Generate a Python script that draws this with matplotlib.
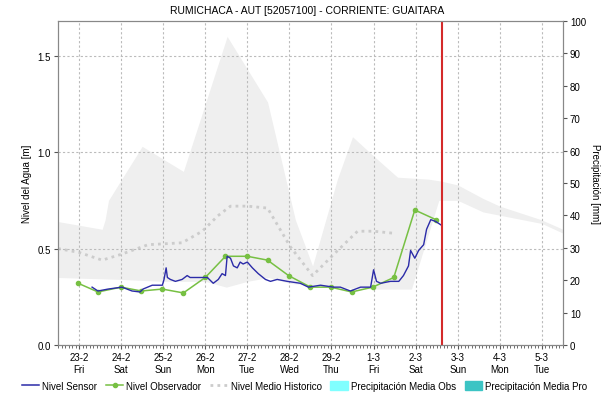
import matplotlib
matplotlib.use("Agg")
import matplotlib.pyplot as plt
import matplotlib.dates as mdates
from matplotlib.lines import Line2D
from matplotlib.patches import Patch
import pandas as pd

plt.rcParams['font.family'] = ['Liberation Sans', 'DejaVu Sans']

start = pd.Timestamp("2024-02-23")

# historical band (days from 23-2, level in m)
band_up_d = [-0.5, 0.55, 0.62, 0.7, 1.5, 2.48, 3.52, 4.0, 4.48, 5.14, 5.55, 6.14, 6.5, 7.0,
             7.57, 8.3, 8.6, 9.0, 9.6, 10.0, 10.98, 11.5]
band_up_v = [0.64, 0.60, 0.65, 0.75, 1.03, 0.90, 1.60, 1.43, 1.26, 0.65, 0.41, 0.86, 1.08, 0.98,
             0.87, 0.86, 0.85, 0.83, 0.76, 0.72, 0.65, 0.60]
band_lo_d = [-0.5, 1.0, 2.0, 3.0, 3.5, 4.0, 4.5, 5.0, 6.0, 7.0, 7.9, 8.55, 9.0, 9.6, 11.0, 11.5]
band_lo_v = [0.35, 0.34, 0.33, 0.33, 0.30, 0.33, 0.35, 0.32, 0.30, 0.29, 0.29, 0.75, 0.75, 0.69,
             0.63, 0.58]

# mean historical level
mean_d = [-0.5, 0.0, 0.55, 1.0, 1.64, 2.45, 2.93, 3.3, 3.6, 4.0, 4.48, 5.02, 5.55, 6.1, 6.62,
          7.0, 7.45]
mean_v = [0.50, 0.48, 0.44, 0.47, 0.52, 0.53, 0.59, 0.67, 0.72, 0.72, 0.71, 0.51, 0.36, 0.48,
          0.59, 0.59, 0.58]

# sensor level
sensor_d = [0.31, 0.45, 0.69, 1.02, 1.26, 1.45, 1.52, 1.74, 1.98, 2.02, 2.07, 2.1, 2.17, 2.29,
            2.45, 2.57, 2.64, 2.83, 3.05, 3.19, 3.31, 3.4, 3.48, 3.52, 3.6, 3.67, 3.76, 3.83,
            3.9, 4.0, 4.12, 4.26, 4.43, 4.55, 4.71, 4.95, 5.26, 5.45, 5.74, 6.05, 6.21, 6.45,
            6.69, 6.93, 7.0, 7.07, 7.17, 7.4, 7.6, 7.71, 7.83, 7.88, 7.98, 8.07, 8.19, 8.26,
            8.36, 8.48, 8.62]
sensor_v = [0.30, 0.28, 0.29, 0.30, 0.28, 0.275, 0.29, 0.31, 0.31, 0.34, 0.40, 0.35, 0.34, 0.33,
            0.34, 0.36, 0.35, 0.35, 0.35, 0.32, 0.34, 0.37, 0.36, 0.46, 0.45, 0.41, 0.40, 0.43,
            0.42, 0.43, 0.40, 0.37, 0.34, 0.33, 0.34, 0.33, 0.32, 0.30, 0.31, 0.30, 0.30, 0.28,
            0.30, 0.30, 0.39, 0.33, 0.32, 0.33, 0.33, 0.36, 0.41, 0.49, 0.45, 0.49, 0.52, 0.60,
            0.65, 0.64, 0.62]

# observer level
obs_d = [-0.02, 0.45, 1.0, 1.48, 1.98, 2.48, 3.0, 3.48, 4.0, 4.48, 4.98, 5.5, 5.98, 6.48, 6.98,
         7.48, 7.98, 8.48]
obs_v = [0.32, 0.275, 0.30, 0.28, 0.29, 0.27, 0.35, 0.46, 0.46, 0.44, 0.36, 0.30, 0.30, 0.275,
         0.30, 0.35, 0.70, 0.65]

now_d = 8.62


def t(days):
    return start + pd.to_timedelta(days, unit="D")


fig = plt.figure(figsize=(6.15, 4.02), dpi=100)
ax = fig.add_axes([0.0943, 0.1393, 0.821, 0.806])

ax.fill_between(t(band_up_d), band_up_v, color="#efefef", lw=0, zorder=1)
# lower edge: cover with white below the minimum
ax.fill_between(t(band_lo_d), band_lo_v, color="white", lw=0, zorder=1.1)

ax.grid(True, color="#bbbbbb", linestyle=(0, (2, 2)), linewidth=0.8, zorder=1.5)
ax.set_axisbelow(False)

ax.plot(t(mean_d), mean_v, color="#cccccc", linestyle=(0, (1, 1.5)), lw=2, zorder=2)
ax.plot(t(obs_d), obs_v, color="#77c043", lw=1.1, marker="o", ms=3, zorder=3)
ax.plot(t(sensor_d), sensor_v, color="#2b2ba8", lw=1.0, zorder=4)
ax.axvline(t(now_d), color="#d42a2a", lw=1.5, zorder=5)

ax.set_xlim(t(-0.5), t(11.5))
ax.set_ylim(0, 1.68)
ax.set_yticks([0.0, 0.5, 1.0, 1.5])
ax.yaxis.set_major_formatter(matplotlib.ticker.FormatStrFormatter("%.1f"))
ax.xaxis.set_major_locator(mdates.DayLocator())
ax.xaxis.set_major_formatter(mdates.DateFormatter("%-d-%-m\n%a"))
ax.xaxis.set_minor_locator(mdates.HourLocator(byhour=range(0, 24, 2)))
ax.tick_params(axis="x", which="minor", length=2, color="#555555", width=0.6)
ax.tick_params(axis="both", which="major", labelsize=7, length=3, color="#555555", pad=2)
ax.set_ylabel("Nivel del Agua [m]", fontsize=7)
for s in ax.spines.values():
    s.set_color("#888888")
    s.set_zorder(6)

ax2 = ax.twinx()
ax2.set_ylim(0, 100)
ax2.set_yticks(range(0, 101, 10))
ax2.tick_params(axis="y", labelsize=7, length=3, color="#555555", pad=2)
ax2.set_ylabel("Precipitación [mm]", fontsize=7, rotation=270, labelpad=10)
for s in ax2.spines.values():
    s.set_color("#888888")

fig.suptitle("RUMICHACA - AUT [52057100] - CORRIENTE: GUAITARA", fontsize=7.5, y=0.985)

handles = [
    Line2D([], [], color="#2b2ba8", lw=1.1),
    Line2D([], [], color="#77c043", lw=1.1, marker="o", ms=3),
    Line2D([], [], color="#cccccc", linestyle=(0, (1, 1.5)), lw=2),
    Patch(color="#80ffff"),
    Patch(color="#3cc4c4"),
]
labels = ["Nivel Sensor", "Nivel Observador", "Nivel Medio Historico",
          "Precipitación Media Obs", "Precipitación Media Pro"]
fig.legend(handles, labels, loc="lower center", ncol=5, frameon=False, fontsize=7,
           bbox_to_anchor=(0.495, 0.01), handlelength=1.8, handletextpad=0.3,
           columnspacing=0.9, handleheight=1.0, borderaxespad=0.2)

fig.savefig("out.png", dpi=100)
